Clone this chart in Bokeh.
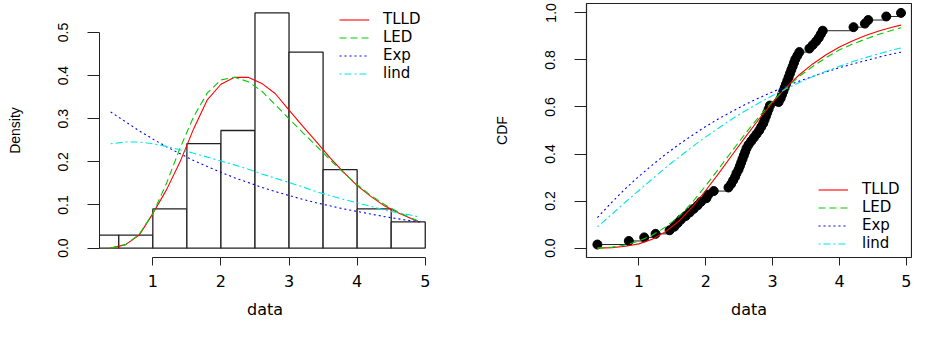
import math
from bokeh.plotting import figure
from bokeh.layouts import row
from bokeh.models import (FixedTicker, PrintfTickFormatter, Legend, LegendItem,
                          Range1d, ColumnDataSource)
from bokeh.embed import file_html
from bokeh.resources import INLINE

# ---------------- data ----------------
data_sorted = [0.38, 0.85, 1.08, 1.25, 1.46,
               1.53, 1.58, 1.63, 1.70, 1.76, 1.82, 1.88, 1.93,
               2.01, 2.04, 2.12, 2.34, 2.38, 2.41, 2.44, 2.46, 2.49,
               2.51, 2.53, 2.55, 2.57, 2.59, 2.61, 2.64, 2.68, 2.72, 2.76,
               2.80, 2.83, 2.86, 2.88, 2.90, 2.92, 2.94, 2.96,
               3.09, 3.12, 3.14, 3.16, 3.18, 3.20, 3.22, 3.24, 3.26, 3.28,
               3.30, 3.32, 3.34, 3.37, 3.40,
               3.55, 3.60, 3.65, 3.69, 3.72, 3.75,
               4.21, 4.38, 4.43,
               4.70, 4.92]

bin_left = [0.0, 0.5, 1.0, 1.5, 2.0, 2.5, 3.0, 3.5, 4.0, 4.5]
bin_right = [0.5, 1.0, 1.5, 2.0, 2.5, 3.0, 3.5, 4.0, 4.5, 5.0]
hist_density = [0.0303, 0.0303, 0.0909, 0.2424, 0.2727, 0.5455, 0.4545, 0.1818, 0.0909, 0.0606]

curve_x = [0.38, 0.6, 0.8, 1.0, 1.2, 1.4, 1.6, 1.8, 2.0, 2.2, 2.4, 2.6,
           2.8, 3.0, 3.2, 3.4, 3.6, 3.8, 4.0, 4.2, 4.4, 4.6, 4.8, 4.92]

tlld_pdf = [0.000, 0.008, 0.030, 0.080, 0.135, 0.200, 0.277, 0.344, 0.380, 0.396, 0.396, 0.382,
            0.358, 0.320, 0.283, 0.247, 0.210, 0.176, 0.145, 0.120, 0.098, 0.082, 0.068, 0.060]
led_pdf = [0.000, 0.008, 0.032, 0.080, 0.150, 0.232, 0.305, 0.360, 0.390, 0.396, 0.386, 0.364,
           0.332, 0.300, 0.268, 0.237, 0.205, 0.175, 0.147, 0.122, 0.101, 0.084, 0.069, 0.062]
exp_pdf = [0.316, 0.293, 0.272, 0.253, 0.235, 0.219, 0.203, 0.189, 0.176, 0.163, 0.152, 0.141,
           0.131, 0.122, 0.113, 0.105, 0.098, 0.091, 0.085, 0.079, 0.073, 0.068, 0.063, 0.061]
lind_pdf = [0.242, 0.246, 0.246, 0.242, 0.236, 0.228, 0.220, 0.211, 0.202, 0.193, 0.183, 0.172,
            0.162, 0.152, 0.142, 0.131, 0.122, 0.113, 0.105, 0.097, 0.088, 0.082, 0.076, 0.072]

tlld_cdf = [0.000, 0.002, 0.008, 0.018, 0.038, 0.070, 0.115, 0.175, 0.245, 0.320, 0.398, 0.475,
            0.550, 0.620, 0.683, 0.737, 0.783, 0.822, 0.855, 0.882, 0.905, 0.924, 0.940, 0.948]
led_cdf = [0.000, 0.004, 0.013, 0.030, 0.055, 0.090, 0.135, 0.195, 0.265, 0.340, 0.415, 0.490,
           0.560, 0.625, 0.680, 0.730, 0.772, 0.810, 0.843, 0.868, 0.890, 0.910, 0.927, 0.937]
exp_cdf = [0.130, 0.196, 0.253, 0.305, 0.353, 0.399, 0.441, 0.480, 0.517, 0.551, 0.582, 0.612,
           0.639, 0.664, 0.688, 0.710, 0.730, 0.749, 0.767, 0.783, 0.798, 0.813, 0.826, 0.833]
lind_cdf = [0.090, 0.145, 0.196, 0.245, 0.294, 0.342, 0.387, 0.431, 0.473, 0.512, 0.550, 0.585,
            0.618, 0.649, 0.677, 0.704, 0.729, 0.752, 0.773, 0.793, 0.811, 0.827, 0.843, 0.851]

series_names = ["TLLD", "LED", "Exp", "lind"]
x_ticks = [1, 2, 3, 4, 5]
pdf_ticks = [0.0, 0.1, 0.2, 0.3, 0.4, 0.5]
cdf_ticks = [0.0, 0.2, 0.4, 0.6, 0.8, 1.0]

# ---------------- styles ----------------
colors = ["#FF0000", "#00CC00", "#0000FF", "#00E5E5"]
dashes = ["solid", "7 4", "2 3", "2 3 7 3"]
H_FONT = "DejaVu Sans"
V_FONT = "Liberation Sans"
X_RANGE = (0.217, 5.077)


def style_axes(p, yticks, ybounds, fmt):
    xa = p.xaxis[0]
    ya = p.yaxis[0]
    xa.ticker = FixedTicker(ticks=x_ticks)
    xa.bounds = (1, 5)
    ya.ticker = FixedTicker(ticks=yticks)
    ya.bounds = ybounds
    ya.formatter = PrintfTickFormatter(format=fmt)
    for ax in (xa, ya):
        ax.minor_tick_line_color = None
        ax.major_tick_in = 0
        ax.axis_line_color = "#222222"
        ax.major_tick_line_color = "#222222"
        ax.axis_line_width = 1
        ax.major_label_text_color = "black"
        ax.axis_label_text_color = "black"
        ax.axis_label_text_font_style = "normal"
    xa.major_tick_out = 8
    xa.major_label_standoff = 9
    xa.major_label_text_font = H_FONT
    xa.major_label_text_font_size = "16px"
    xa.axis_label = "data"
    xa.axis_label_text_font = H_FONT
    xa.axis_label_text_font_size = "16px"
    xa.axis_label_standoff = 10
    ya.major_tick_out = 12
    ya.major_label_standoff = 19
    ya.major_label_orientation = "vertical"
    ya.major_label_text_font = V_FONT
    ya.major_label_text_font_size = "14px"
    ya.axis_label_text_font = V_FONT
    ya.axis_label_text_font_size = "14px"
    ya.axis_label_standoff = 33
    p.xgrid.grid_line_color = None
    p.ygrid.grid_line_color = None


def make_legend(renderers, loc):
    items = [LegendItem(label=n, renderers=[r]) for n, r in zip(series_names, renderers)]
    lg = Legend(items=items, location=loc)
    lg.border_line_color = None
    lg.background_fill_alpha = 0
    lg.padding = 0
    lg.margin = 0
    lg.spacing = 0
    lg.glyph_width = 30
    lg.glyph_height = 17
    lg.label_height = 17
    lg.label_standoff = 14
    lg.label_text_font = H_FONT
    lg.label_text_font_size = "15px"
    lg.label_text_color = "black"
    return lg


# ---------------- left: histogram + densities ----------------
p1 = figure(width=445, height=321, output_backend="svg", toolbar_location=None,
            x_range=Range1d(*X_RANGE), y_range=Range1d(-0.02182, 0.56727),
            min_border_left=99, min_border_right=15, min_border_top=3, min_border_bottom=63)
p1.outline_line_color = None
p1.background_fill_color = "white"
p1.border_fill_color = "white"

hist_src = ColumnDataSource(dict(left=bin_left, right=bin_right, top=hist_density,
                                 bottom=[0] * len(hist_density)))
p1.quad(left="left", right="right", top="top", bottom="bottom", source=hist_src,
        fill_color="white", line_color="#222222", line_width=1.3)

pdfs = [tlld_pdf, led_pdf, exp_pdf, lind_pdf]
r1 = []
for ys, c, d in zip(pdfs, colors, dashes):
    r1.append(p1.line(curve_x, ys, line_color=c, line_dash=d, line_width=1.1))

style_axes(p1, pdf_ticks, (0, 0.5), "%.1f")
p1.yaxis[0].axis_label = "Density"
p1.add_layout(make_legend(r1, (240, 175)), "center")

# ---------------- right: ECDF + CDFs ----------------
p2 = figure(width=467, height=321, output_backend="svg", toolbar_location=None,
            x_range=Range1d(*X_RANGE), y_range=Range1d(-0.04, 1.04),
            min_border_left=141, min_border_right=1, min_border_top=3, min_border_bottom=63)
p2.outline_line_color = "#222222"
p2.outline_line_width = 1.2
p2.background_fill_color = "white"
p2.border_fill_color = "white"

n = len(data_sorted)
ecdf_y = [(i + 1) / n for i in range(n)]
p2.segment(x0=data_sorted[:-1], y0=ecdf_y[:-1], x1=data_sorted[1:], y1=ecdf_y[:-1],
           line_color="#222222", line_width=1)
p2.scatter(data_sorted, ecdf_y, size=9, fill_color="black", line_color="black")

cdfs = [tlld_cdf, led_cdf, exp_cdf, lind_cdf]
r2 = []
for ys, c, d in zip(cdfs, colors, dashes):
    r2.append(p2.line(curve_x, ys, line_color=c, line_dash=d, line_width=1.1))

style_axes(p2, cdf_ticks, (0, 1), "%.1f")
p2.yaxis[0].axis_label = "CDF"
p2.add_layout(make_legend(r2, (232, 5)), "center")

layout = row(p1, p2)
open("out.html", "w").write(file_html(layout, INLINE))
